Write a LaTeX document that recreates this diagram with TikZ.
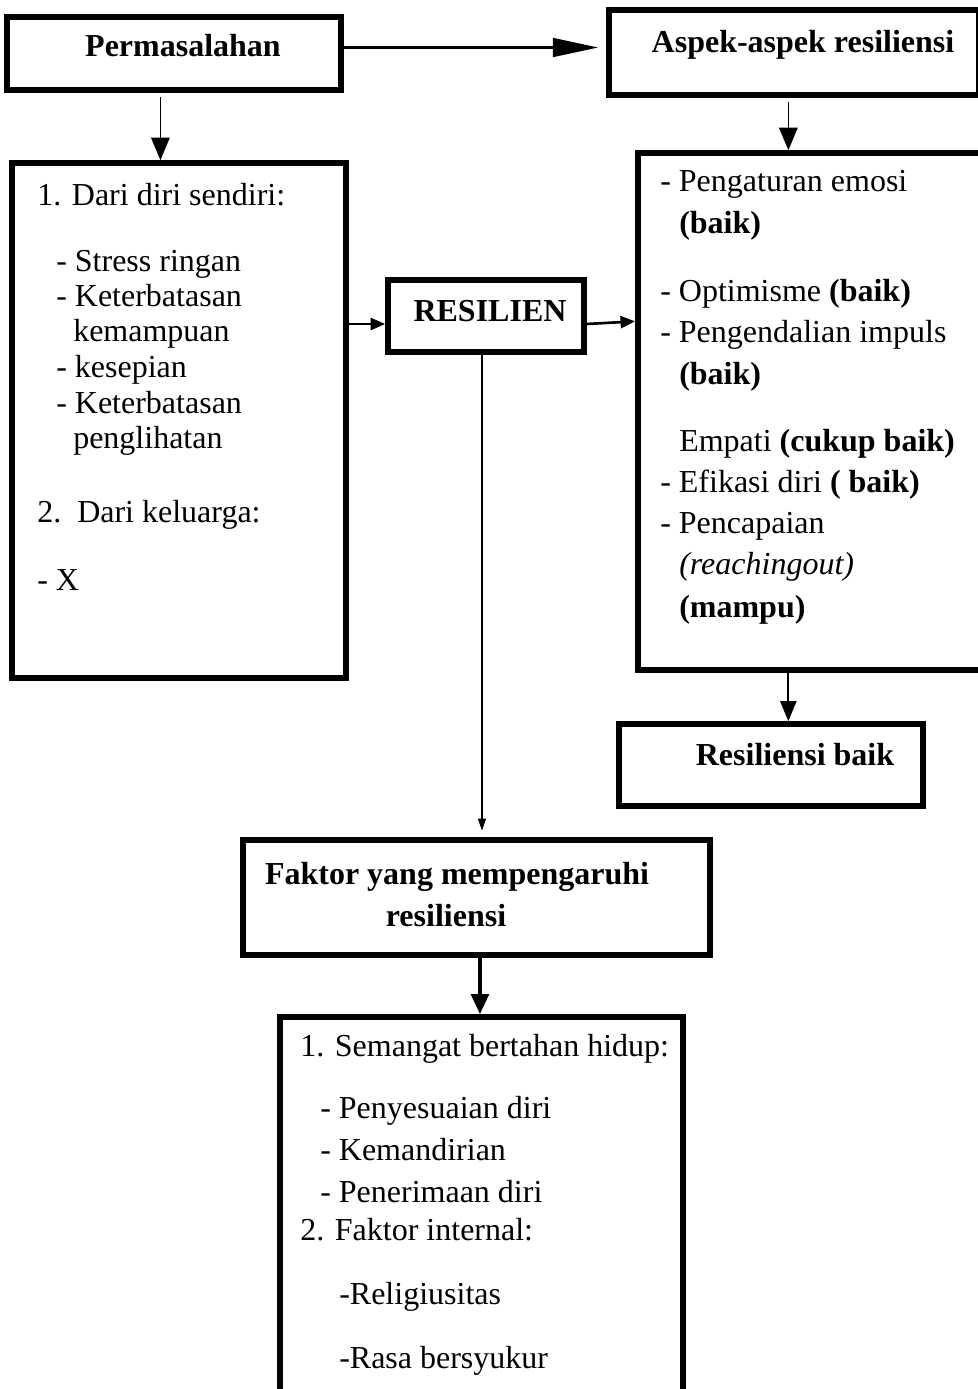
\documentclass[tikz,border=0pt]{standalone}
\usepackage{fontspec}
\setmainfont{Liberation Serif}
\usetikzlibrary{arrows.meta,fit,calc}
\begin{document}
\begin{tikzpicture}[x=0.75pt,y=-0.75pt,
  box/.style={draw, line width=4.2pt, inner sep=0pt},
  txt/.style={anchor=base west, inner sep=0pt, font=\fontsize{24}{28}\selectfont},
  ttl/.style={anchor=base, inner sep=0pt, font=\fontsize{24}{28}\selectfont\bfseries},
  bigarrow/.style={line width=2pt, -{Triangle[length=34pt,width=14pt]}},
  downarrow/.style={line width=1pt, -{Triangle[length=17pt,width=14pt]}},
  midarrow/.style={line width=1.6pt, -{Triangle[length=15pt,width=12pt]}},
  sidearrow/.style={line width=2pt, -{Triangle[length=11pt,width=9pt]}},
  thinarrow/.style={line width=0.8pt, -{Triangle[length=9pt,width=6pt]}},
  heavyarrow/.style={line width=3pt, -{Triangle[length=15pt,width=13pt]}}]
\useasboundingbox (0,0) rectangle (978,1389);
\clip (0,0) rectangle (978,1389);

% boxes
\node[box, fit={(7,17) (341,90)}] (perm) {};
\node[box, fit={(609,10) (979,95)}] (aspek) {};
\node[box, fit={(12,163) (346,678)}] (left) {};
\node[box, fit={(638,153) (990,670)}] (right) {};
\node[box, fit={(388,280) (584,352)}] (res) {};
\node[box, fit={(619,724) (923,806)}] (resb) {};
\node[box, fit={(243,840) (710,955)}] (faktor) {};
\node[box, fit={(280,1017) (683,1400)}] (bot) {};

% titles
\node[ttl] (permT) at (183,56) {Permasalahan};
\node[ttl] (aspekT) at (803,52) {Aspek-aspek resiliensi};
\node[ttl] (resT) at (490,321) {RESILIEN};
\node[ttl] (resbT) at (795,765) {Resiliensi baik};
\node[ttl] (faktorT1) at (457,884) {Faktor yang mempengaruhi};
\node[ttl] (faktorT2) at (446,926) {resiliensi};

% problems
\node[txt] (l1) at (37,205) {1. Dari diri sendiri:};
\node[txt] (l2) at (56,271) {- Stress ringan};
\node[txt] (l3) at (56,306) {- Keterbatasan};
\node[txt] (l4) at (73,341) {kemampuan};
\node[txt] (l5) at (56,377) {- kesepian};
\node[txt] (l6) at (56,413) {- Keterbatasan};
\node[txt] (l7) at (73,448) {penglihatan};
\node[txt] (l8) at (37,522) {2.\ \ Dari keluarga:};
\node[txt] (l9) at (37,590) {- X};

% aspects
\node[txt] (r1) at (660,191) {- Pengaturan emosi};
\node[txt] (r2) at (679,233) {\textbf{(baik)}};
\node[txt] (r3) at (660,301) {- Optimisme \textbf{(baik)}};
\node[txt] (r4) at (660,342) {- Pengendalian impuls};
\node[txt] (r5) at (679,384) {\textbf{(baik)}};
\node[txt] (r6) at (679,451) {Empati \textbf{(cukup baik)}};
\node[txt] (r7) at (660,492) {- Efikasi diri \textbf{( baik)}};
\node[txt] (r8) at (660,533) {- Pencapaian};
\node[txt] (r9) at (679,574) {\textit{(reachingout)}};
\node[txt] (r10) at (679,617) {\textbf{(mampu)}};

% factors
\node[txt] (b1) at (300,1056) {1. Semangat bertahan hidup:};
\node[txt] (b2) at (320,1118) {- Penyesuaian diri};
\node[txt] (b3) at (320,1160) {- Kemandirian};
\node[txt] (b4) at (320,1202) {- Penerimaan diri};
\node[txt] (b5) at (300,1240) {2. Faktor internal:};
\node[txt] (b6) at (339,1304) {-Religiusitas};
\node[txt] (b7) at (339,1368) {-Rasa bersyukur};

% connectors
\coordinate (pa) at ([yshift=4.5pt]perm.east);
\draw[bigarrow, shorten >=6pt] (pa) -- (aspek.west |- pa);

\coordinate (pd) at ($(perm.south west)!0.46!(perm.south east)$);
\draw[downarrow, shorten <=3pt] (pd) -- (pd |- left.north);

\coordinate (ad) at ($(aspek.south west)!0.485!(aspek.south east)$);
\draw[downarrow, line width=1.2pt, shorten <=3pt] (ad) -- (ad |- right.north);

\coordinate (rin) at ([yshift=-6pt]res.west);
\draw[sidearrow] (left.east |- rin) -- (rin);

\coordinate (rout) at ([yshift=-6pt]res.east);
\coordinate (rend) at ([yshift=2pt]right.west |- rout);
\draw[sidearrow] (rout) -- (rend);

\coordinate (rdown) at ($(res.south west)!0.48!(res.south east)$);
\draw[thinarrow, shorten >=5pt] (rdown) -- (rdown |- faktor.north);

\coordinate (bd) at ($(resb.north west)!0.556!(resb.north east)$);
\draw[midarrow, shorten <=-3pt] (bd |- right.south) -- (bd);

\coordinate (fd) at ([xshift=2.6pt]faktor.south);
\draw[heavyarrow] (fd) -- (fd |- bot.north);
\end{tikzpicture}
\end{document}
